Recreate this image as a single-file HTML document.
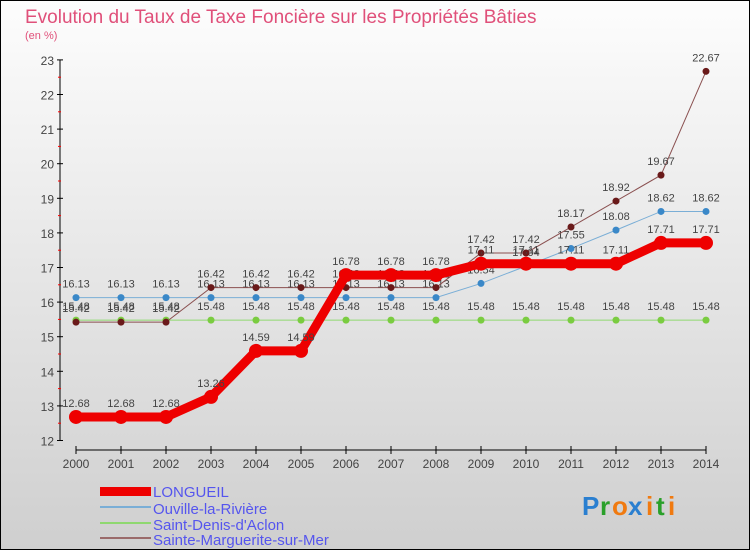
<!DOCTYPE html>
<html><head><meta charset="utf-8"><style>
body{margin:0}
svg{display:block;font-family:"Liberation Sans",sans-serif}
</style></head><body>
<svg id="c" width="750" height="550" xmlns="http://www.w3.org/2000/svg">
<defs><linearGradient id="bg" x1="0" y1="0" x2="0" y2="1"><stop offset="0" stop-color="#fdfdfd"/><stop offset="1" stop-color="#cfcfcf"/></linearGradient></defs>
<rect x="0.5" y="0.5" width="749" height="549" fill="url(#bg)" stroke="#000"/>
<text x="25" y="23" font-size="19" fill="#e0507a">Evolution du Taux de Taxe Foncière sur les Propriétés Bâties</text>
<text x="25" y="39" font-size="11" fill="#e0507a">(en %)</text>
<g id="axes"></g><g id="series"></g>
<g>
<rect x="100" y="487" width="51" height="9" fill="#e00"/>
<text x="153" y="497" font-size="15" fill="#5555ee">LONGUEIL</text>
<rect x="100" y="506" width="51" height="2" fill="#7aaed6"/>
<text x="153" y="514" font-size="15" fill="#5555ee">Ouville-la-Rivière</text>
<rect x="100" y="522" width="51" height="2" fill="#8fd870"/>
<text x="153" y="530" font-size="15" fill="#5555ee">Saint-Denis-d'Aclon</text>
<rect x="100" y="537" width="51" height="2" fill="#9a6a6a"/>
<text x="153" y="545" font-size="15" fill="#5555ee">Sainte-Marguerite-sur-Mer</text>
</g>
<g font-size="26" font-weight="bold">
<text x="582" y="515" fill="#2a7fd0">P</text><text x="600" y="515" fill="#2aa02a">r</text><text x="612" y="515" fill="#f07a10">o</text><text x="628" y="515" fill="#2a7fd0">x</text><text x="646" y="515" fill="#f07a10">i</text><text x="656" y="515" fill="#2aa02a">t</text><text x="668" y="515" fill="#f07a10">i</text>
</g>
</svg>
<script>
const years=[2000,2001,2002,2003,2004,2005,2006,2007,2008,2009,2010,2011,2012,2013,2014];
const longueil=[12.68,12.68,12.68,13.26,14.59,14.59,16.78,16.78,16.78,17.11,17.11,17.11,17.11,17.71,17.71];
const ouville=[16.13,16.13,16.13,16.13,16.13,16.13,16.13,16.13,16.13,16.54,17.04,17.55,18.08,18.62,18.62];
const saintDenis=[15.48,15.48,15.48,15.48,15.48,15.48,15.48,15.48,15.48,15.48,15.48,15.48,15.48,15.48,15.48];
const sainteMarguerite=[15.42,15.42,15.42,16.42,16.42,16.42,16.42,16.42,16.42,17.42,17.42,18.17,18.92,19.67,22.67];
const yTicks=[12,13,14,15,16,17,18,19,20,21,22,23];
const NS="http://www.w3.org/2000/svg";
const X=i=>76+i*45, Y=v=>440.5-(v-12)*34.6;
function mk(t,a,p){const e=document.createElementNS(NS,t);for(const k in a)e.setAttribute(k,a[k]);p.appendChild(e);return e;}
const ax=document.getElementById('axes');
let yl=mk('line',{x1:60,y1:Y(23),x2:60,y2:Y(12),stroke:'#000'},ax);


let xl=mk('line',{x1:76,y1:450,x2:706,y2:450,stroke:'#000'},ax);


yTicks.forEach(v=>{
 mk('line',{x1:57,y1:Y(v),x2:63,y2:Y(v),stroke:'#000'},ax);
 if(v<23)mk('line',{x1:58,y1:Y(v+0.5),x2:61,y2:Y(v+0.5),stroke:'#f00'},ax);
 const t=mk('text',{x:54,y:Y(v)+5,'font-size':12,fill:'#444','text-anchor':'end'},ax);t.textContent=v;
 
 
});
years.forEach((y,i)=>{
 mk('line',{x1:X(i),y1:446,x2:X(i),y2:454,stroke:'#000'},ax);
 const t=mk('text',{x:X(i),y:468,'font-size':12,fill:'#444','text-anchor':'middle'},ax);t.textContent=y;
 
 
});
const sg=document.getElementById('series');
function series(vals,color,w,r,name,dot){
 const g=mk('g',{},sg);
 
 
 mk('polyline',{points:vals.map((v,i)=>X(i)+','+Y(v)).join(' '),fill:'none',stroke:color,'stroke-width':w},g);
 vals.forEach((v,i)=>{
  const c=mk('circle',{cx:X(i),cy:Y(v),r:r,fill:dot},g);
  
  
  const t=mk('text',{x:X(i),y:Y(v)-10,'font-size':11,fill:'#444','text-anchor':'middle'},g);t.textContent=v.toFixed(2).replace(/0$/,'');
  
  
 });
}
series(saintDenis,'#8fd870',1,3.5,'series-saint-denis','#7acc40');
series(ouville,'#7aaed6',1,3.5,'series-ouville','#3a88c8');
series(sainteMarguerite,'#8a5050',1,3.5,'series-sainte-marguerite','#6a1a1a');
series(longueil,'#e00',9,7,'series-longueil','#e00');
</script>
</body></html>
